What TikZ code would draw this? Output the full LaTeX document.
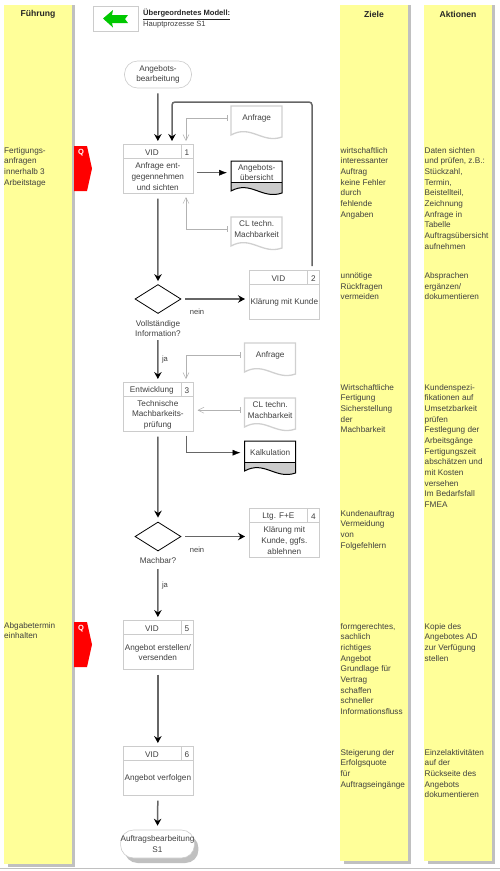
\documentclass[tikz,border=0pt]{standalone}
\usepackage{xcolor}
\usepackage{fontspec}
\usepackage{tikz}
\usetikzlibrary{arrows.meta,shadows,shapes.geometric}
\setmainfont{Liberation Sans}
\definecolor{laneYellow}{HTML}{FFFF99}
\definecolor{laneShadow}{HTML}{C0C0C0}
\definecolor{txtGrey}{HTML}{404040}
\definecolor{boxGrey}{HTML}{CCCCCC}
\definecolor{docGrey}{HTML}{D0D0D0}
\definecolor{flowGrey}{HTML}{666666}
\definecolor{flagRed}{HTML}{FF0000}
\definecolor{backGreen}{HTML}{00C800}
\tikzset{
  lane/.style={fill=laneYellow, draw=none},
  laneshadow/.style={fill=laneShadow, draw=none},
  title/.style={font=\fontsize{8.6}{11}\selectfont\bfseries, text=black!85, inner sep=0pt},
  txt/.style={font=\fontsize{8.2}{10.67}\selectfont, text=txtGrey, inner sep=0pt, align=center},
  note/.style={txt, align=left, anchor=north west},
  frame/.style={draw=boxGrey, line width=0.7pt, fill=white, inner sep=0pt, minimum width=70pt, minimum height=49pt, anchor=north west},
  cellwho/.style={txt, draw=boxGrey, line width=0.7pt, minimum width=58pt, minimum height=14pt, text height=7.5pt, anchor=north west},
  cellno/.style={txt, draw=boxGrey, line width=0.7pt, minimum width=12pt, minimum height=14pt, text height=7.5pt, anchor=north east},
  cellbody/.style={txt, minimum width=70pt, minimum height=35pt, anchor=south, yshift=-0.6pt},
  terminal/.style={txt, draw=boxGrey, line width=0.6pt, fill=white, rounded corners=13pt, minimum height=27pt},
  decision/.style={shape=diamond, draw=black, line width=0.8pt, fill=white, inner sep=0pt, minimum width=46pt, minimum height=29pt},
  doctop/.style={txt, minimum width=51pt, minimum height=22pt, anchor=north west, yshift=-1pt},
  docline/.style={draw=docGrey, line width=1.3pt},
  outline/.style={draw=black, line width=1pt},
  flow/.style={-{Stealth[inset=2.4pt, length=7pt, width=7.5pt, black]}, line width=1.5pt, flowGrey},
  input/.style={{Bar[width=6pt, length=0.5pt]}-{Straight Barb[length=6pt, width=6pt]}, line width=0.5pt, black!30},
  output/.style={-{Latex[length=8pt, width=6pt, black]}, line width=0.5pt, black!60},
  branch/.style={txt, font=\fontsize{7.6}{10}\selectfont},
  flag/.style={fill=flagRed, draw=none},
  flagq/.style={font=\fontsize{7.5}{9}\selectfont\bfseries, text=white, inner sep=0pt},
}
% process box: name, x, y, owner, number, text
\newcommand{\procbox}[6]{
  \node[frame] (#1) at (#2,#3) {};
  \node[cellwho] (#1who) at (#1.north west) {#4};
  \node[cellno] (#1no) at (#1.north east) {#5};
  \node[cellbody] (#1body) at (#1.south) {#6};
}
% plain document: name, x, y, text
\newcommand{\docplain}[4]{
  \draw[docline] (#2,#3) -- ++(51,0) -- ++(0,31) .. controls +(-20,7) and +(20,-11) .. ++(-51,-2) -- cycle;
  \node[doctop] (#1) at (#2,#3) {#4};
}
% document with grey foot
\newcommand{\docfoot}[4]{
  \fill[black!20] (#2,#3+21) -- ++(51,0) -- ++(0,11) .. controls +(-20,7) and +(20,-11) .. ++(-51,-2) -- cycle;
  \draw[outline] (#2,#3) -- ++(51,0) -- ++(0,32) .. controls +(-20,7) and +(20,-11) .. ++(-51,-2) -- cycle;
  \draw[outline] (#2,#3+21) -- ++(51,0);
  \node[doctop, minimum height=21pt] (#1) at (#2,#3) {#4};
}
\begin{document}
\begin{tikzpicture}[x=1pt, y=-1pt]
  \useasboundingbox (0,0) rectangle (500,871);
  % lanes
  \foreach \xa/\yb in {4/865, 340/862, 424/862} {
    \fill[laneshadow] (\xa+67,5) rectangle (\xa+71,\yb+2);
    \fill[laneshadow] (\xa+4,\yb-2) rectangle (\xa+71,\yb+2);
    \fill[lane] (\xa,5) rectangle (\xa+67.5,\yb-1);
  }
  \draw[laneShadow, line width=0.8pt] (0,868.5) -- (500,868.5);
  \node[title] (fuehrung) at (38,14.5) {Führung};
  \node[title] (ziele) at (374,14.5) {Ziele};
  \node[title] (aktionen) at (458,14.5) {Aktionen};

  % parent model
  \node[draw=boxGrey, line width=0.7pt, minimum width=45pt, minimum height=25pt, inner sep=0pt] (parent) at (115.5,18.5) {};
  \fill[backGreen] (103,18.5) -- (113,10) -- (112,15) -- (128,15) -- (125,19) -- (128,23) -- (112,23) -- (113,27.5) -- cycle;
  \node[note, font=\fontsize{7.6}{10}\selectfont\bfseries, text=black!85] (parenttitle) at (143,9) {\underline{Übergeordnetes Modell:}};
  \node[note, font=\fontsize{7.6}{10}\selectfont] (parentname) at (143,21) {Hauptprozesse S1};

  % process
  \node[terminal, minimum width=67pt] (start) at (158,74.5) {Angebots-\\bearbeitung};
  \procbox{box1}{122.5}{144}{VID}{1}{Anfrage ent-\\gegennehmen\\und sichten}
  \procbox{box2}{249}{270}{VID}{2}{Klärung mit Kunde}
  \procbox{box3}{122.5}{382}{Entwicklung}{3}{Technische\\Machbarkeits-\\prüfung}
  \procbox{box4}{249}{508}{Ltg. F+E}{4}{Klärung mit\\Kunde, ggfs.\\ablehnen}
  \procbox{box5}{122.5}{620}{VID}{5}{Angebot erstellen/\\versenden}
  \procbox{box6}{122.5}{746}{VID}{6}{Angebot verfolgen}
  \node[terminal, minimum width=73pt, minimum height=28pt, drop shadow={shadow xshift=4pt, shadow yshift=-5pt, fill=laneShadow, opacity=1}] (finish) at (157.5,844) {Auftragsbearbeitung\\S1};

  \node[decision] (dec1) at (158,299) {};
  \node[txt] (dec1txt) at (158,328.5) {Vollständige\\Information?};
  \node[decision] (dec2) at (158,536.5) {};
  \node[txt] (dec2txt) at (158,561) {Machbar?};

  \docplain{doc1}{231}{106}{Anfrage}
  \docfoot{doc2}{231}{161}{Angebots-\\übersicht}
  \docplain{doc3}{231}{217}{CL techn.\\Machbarkeit}
  \docplain{doc4}{244.5}{343}{Anfrage}
  \docplain{doc5}{244.5}{398}{CL techn.\\Machbarkeit}
  \docfoot{doc6}{244.5}{441}{Kalkulation}

  % free ends of the connectors
  \coordinate (in1a) at (186,144);
  \coordinate (in1b) at (186,193);
  \coordinate (in3) at (186,382);
  \coordinate (out3) at (186,431.5);
  \coordinate (loopout) at (312,270);
  \coordinate (loopin) at (172,144);
  \coordinate (loopr) at (312,102);
  \coordinate (loopl) at (172,102);
  \coordinate (box3r) at (192.5,411);

  % main flow
  \draw[flow, shorten <=5pt, shorten >=3pt] (start.south) -- (box1.north);
  \draw[flow, shorten <=5pt, shorten >=3pt] (box1.south) -- (dec1.north);
  \draw[flow, shorten <=4pt, shorten >=4pt] (dec1.east) -- (box2.west |- dec1.east);
  \draw[flow, shorten <=3pt, shorten >=3pt] (dec1txt.south) -- (box3.north);
  \draw[flow, shorten <=5pt, shorten >=4pt] (box3.south) -- (dec2.north);
  \draw[flow, shorten <=4pt, shorten >=4pt] (dec2.east) -- (box4.west |- dec2.east);
  \draw[flow, shorten <=5pt, shorten >=3pt] (dec2txt.south) -- (box5.north);
  \draw[flow, shorten <=5pt, shorten >=3pt] (box5.south) -- (box6.north);
  \draw[flow, shorten <=5pt, shorten >=4pt] (box6.south) -- (finish.north);
  \draw[flow, rounded corners=3pt, shorten <=4pt, shorten >=3pt] (loopout) -- (loopr) -- (loopl) -- (loopin);

  % documents
  \draw[input, shorten <=4pt, shorten >=3pt] (doc1.west) -| (in1a);
  \draw[input, shorten <=4pt, shorten >=4pt] (doc3.west) -| (in1b);
  \draw[input, shorten <=4pt, shorten >=3pt] (doc4.west) -| (in3);
  \draw[input, shorten <=4pt, shorten >=5pt] (doc5.west) -- (box3r |- doc5.west);
  \draw[output, shorten <=4pt, shorten >=4pt] (box1.east |- doc2.west) -- (doc2.west);
  \draw[output, shorten <=4pt, shorten >=4pt] (out3) |- (doc6.west);

  % branch labels
  \node[branch] (nein1) at (197,312) {nein};
  \node[branch] (ja1) at (165,359.5) {ja};
  \node[branch] (nein2) at (197,549.5) {nein};
  \node[branch] (ja2) at (165,586) {ja};

  % quality flags
  \foreach \ytop/\fname in {146/flagA, 622/flagB} {
    \fill[flag] (74,\ytop) -- (87,\ytop) -- (92,\ytop+22.5) -- (87,\ytop+45) -- (74,\ytop+45) -- cycle;
    \node[flagq] (\fname) at (81,\ytop+6.5) {Q};
  }

  % left lane
  \node[note] (fuehrungA) at (4,147) {Fertigungs-\\anfragen\\innerhalb 3\\Arbeitstage};
  \node[note] (fuehrungB) at (4,622) {Abgabetermin\\einhalten};

  % goals
  \node[note] (zieleA) at (340.5,147) {wirtschaftlich\\interessanter\\Auftrag\\keine Fehler\\durch\\fehlende\\Angaben};
  \node[note] (zieleB) at (340.5,272.5) {unnötige\\Rückfragen\\vermeiden};
  \node[note] (zieleC) at (340.5,384) {Wirtschaftliche\\Fertigung\\Sicherstellung\\der\\Machbarkeit};
  \node[note] (zieleD) at (340.5,510) {Kundenauftrag\\Vermeidung\\von\\Folgefehlern};
  \node[note] (zieleE) at (340.5,623) {formgerechtes,\\sachlich\\richtiges\\Angebot\\Grundlage für\\Vertrag\\schaffen\\schneller\\Informationsfluss};
  \node[note] (zieleF) at (340.5,749) {Steigerung der\\Erfolgsquote\\für\\Auftragseingänge};

  % actions
  \node[note] (aktionA) at (424.5,147) {Daten sichten\\und prüfen, z.B.:\\Stückzahl,\\Termin,\\Beistellteil,\\Zeichnung\\Anfrage in\\Tabelle\\Auftragsübersicht\\aufnehmen};
  \node[note] (aktionB) at (424.5,272.5) {Absprachen\\ergänzen/\\dokumentieren};
  \node[note] (aktionC) at (424.5,384) {Kundenspezi-\\fikationen auf\\Umsetzbarkeit\\prüfen\\Festlegung der\\Arbeitsgänge\\Fertigungszeit\\abschätzen und\\mit Kosten\\versehen\\Im Bedarfsfall\\FMEA};
  \node[note] (aktionD) at (424.5,623) {Kopie des\\Angebotes AD\\zur Verfügung\\stellen};
  \node[note] (aktionE) at (424.5,749) {Einzelaktivitäten\\auf der\\Rückseite des\\Angebots\\dokumentieren};
\end{tikzpicture}
\end{document}
